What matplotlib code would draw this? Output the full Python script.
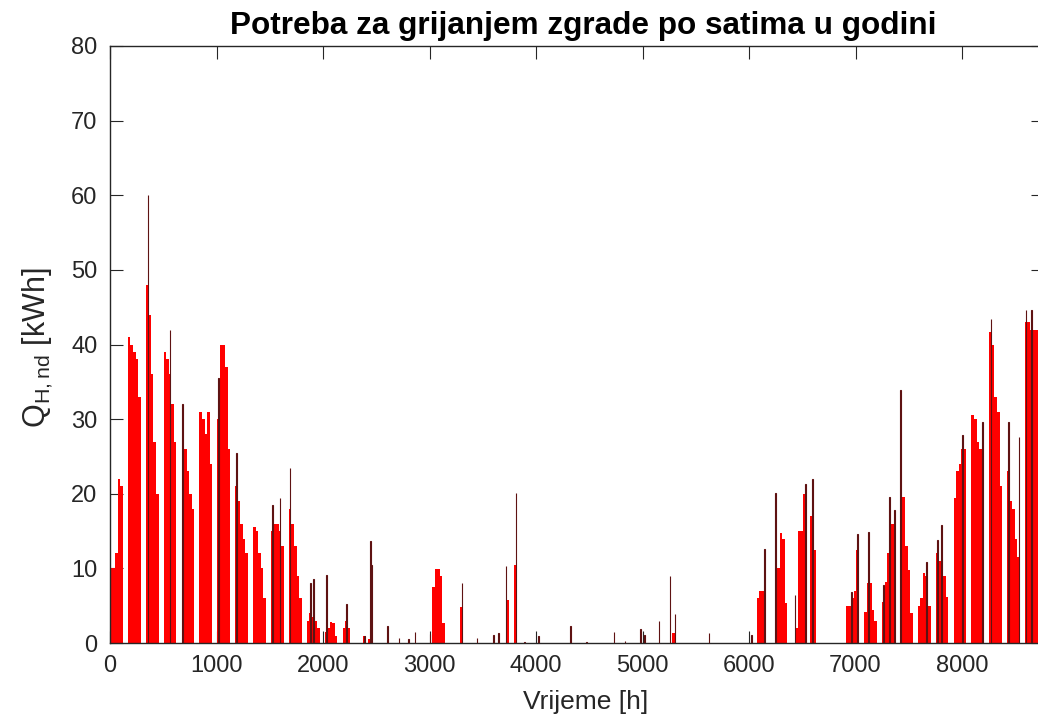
import matplotlib
matplotlib.use("Agg")
import matplotlib.pyplot as plt
import numpy as np

# daily heating demand body (kWh), one row per week (7 days), 365 days total
daily = [
    [10, 10, 12, 22, 21, 0, 0],
    [41, 40, 39, 38, 33, 0, 0],
    [48, 44, 36, 27, 20, 0, 0],
    [39, 38, 36, 32, 27, 0, 0],
    [29, 26, 23, 20, 18, 0, 0],
    [31, 30, 28, 31, 24, 0, 0],
    [30, 40, 40, 37, 26, 0, 0],
    [21, 19, 16, 14, 12, 0, 0],
    [15.5, 15, 12, 10, 6, 0, 0],
    [15, 16, 16, 15, 13, 0, 0],
    [18, 16, 13, 9, 6, 0, 0],
    [3, 4, 3.5, 3, 2, 0, 0],
    [1.5, 2, 2.8, 2.7, 1, 0, 0],
    [2, 3, 2, 0, 0, 0, 0],
    [0, 1, 0, 0.5, 0, 0, 0],
    [0, 0, 0, 0, 0, 0, 0],
    [0, 0, 0, 0, 0, 0, 0],
    [0, 0, 0, 0, 0, 0, 0],
    [7.5, 9.9, 9.9, 9, 2.7, 0, 0],
    [0, 0, 0, 0, 4.8, 0, 0],
    [0, 0, 0, 0, 0, 0, 0],
    [0, 0, 0, 0, 0, 0, 0],
    [0, 5.8, 0, 0, 10.4, 0, 0],
    [0, 0, 0, 0, 0, 0, 0],
    [0, 0, 0, 0, 0, 0, 0],
    [0, 0, 0, 0, 0, 0, 0],
    [0, 0, 0, 0, 0, 0, 0],
    [0, 0, 0, 0, 0, 0, 0],
    [0, 0, 0, 0, 0, 0, 0],
    [0, 0, 0, 0, 0, 0, 0],
    [0, 0, 0, 0, 0, 0, 0],
    [0, 0, 0, 1.3, 0, 0, 0],
    [0, 0, 0, 0, 0, 0, 0],
    [0, 0, 0, 0, 0, 0, 0],
    [0, 0, 0, 0, 0, 0, 0],
    [0, 0, 0, 0, 0, 0, 0],
    [0, 6, 7, 7, 0, 0, 0],
    [0, 13, 10, 14.8, 14, 5.3, 0],
    [0, 0, 2, 15, 15, 20, 0],
    [0, 17, 12.5, 0, 0, 0, 0],
    [0, 0, 0, 0, 0, 0, 0],
    [0, 5, 5, 6, 7, 12.5, 0],
    [0, 4.2, 8, 8, 4.4, 3, 0],
    [0, 5.5, 8.2, 12, 16, 16, 0],
    [0, 25, 19.5, 13, 9.8, 4, 0],
    [0, 5, 6, 9.4, 9, 5, 0],
    [0, 12, 11, 11, 9, 6.2, 0],
    [0, 19.4, 23, 24, 26, 26, 0],
    [0, 30.5, 30, 27, 26, 22, 0],
    [0, 41.7, 40, 33, 31, 21, 0],
    [0, 23, 19, 18, 14, 11.5, 0],
    [0, 43, 43, 42, 42, 42, 0],
    [0],
]

# single-hour peaks (hour of year, kWh)
spike_hours = [357, 563, 682, 1020, 1189, 1528, 1596, 1690, 1880, 1907,
               2035, 2222, 2387, 2447, 2452, 2607, 2714, 2800, 2864, 3005,
               3305, 3446, 3600, 3650, 3718, 3812, 3892, 4020, 4326, 4470,
               4732, 4836, 4977, 5015, 5155, 5258, 5305, 5624, 6025, 6148,
               6251, 6432, 6528, 6592, 6958, 7020, 7121, 7262, 7318, 7362,
               7424, 7668, 7768, 7809, 8006, 8191, 8272, 8435, 8535, 8601,
               8654]
spike_vals = [60, 42, 32, 35.5, 25.5, 18.5, 19.4, 23.5, 8.0, 8.6,
              9.1, 5.2, 1.0, 13.7, 10.5, 2.3, 0.7, 0.5, 1.5, 1.2,
              8.0, 0.7, 1.1, 1.3, 10.3, 20.1, 0.2, 1.0, 2.3, 0.2,
              1.5, 0.3, 1.9, 1.1, 3.0, 9.0, 3.9, 1.3, 1.1, 12.6,
              20.1, 6.4, 21.3, 22.0, 6.8, 14.6, 14.9, 7.8, 19.6, 17.8,
              33.9, 10.9, 13.8, 15.8, 27.9, 29.6, 43.4, 29.6, 27.6, 44.6,
              44.6]

TITLE = "Potreba za grijanjem zgrade po satima u godini"
XLABEL = "Vrijeme [h]"
YLABEL = r"$\mathregular{Q_{H,nd}}$ [kWh]"

TXT = "#262626"
plt.rcParams["font.family"] = ["Liberation Sans", "DejaVu Sans"]
plt.rcParams["mathtext.fontset"] = "custom"
plt.rcParams["mathtext.rm"] = "Liberation Sans"

W, H = 1038, 717
fig = plt.figure(figsize=(W / 100, H / 100), dpi=100)
ax = fig.add_axes([110 / W, (H - 643) / H, (1043 - 110) / W, (643 - 46) / H])

day_vals = np.concatenate([np.array(w, dtype=float) for w in daily])
day_start = np.arange(len(day_vals)) * 24
ax.bar(day_start, day_vals, width=24, align="edge", color="#ff0000",
       edgecolor="none", linewidth=0, zorder=2)
ax.bar(spike_hours, spike_vals, width=8, color="#ff0000",
       edgecolor="#5e1212", linewidth=0.8, zorder=3)

ax.set_xlim(0, 8760)
ax.set_ylim(0, 80)
ax.set_xticks(np.arange(0, 9000, 1000))
ax.set_yticks(np.arange(0, 90, 10))
ax.tick_params(direction="in", length=9, width=0.8, colors=TXT,
               labelsize=17, top=True, right=True, pad=9)
for s in ax.spines.values():
    s.set_color(TXT)
    s.set_linewidth(1.0)

ax.text(0.507, 1.02, TITLE, transform=ax.transAxes, ha="center",
        va="baseline", fontsize=22.7, fontweight="bold", color="black")
fig.text(586 / W, 8 / H, XLABEL, ha="center", va="baseline", fontsize=19,
         color=TXT)
fig.text(38 / W, 1 - 348 / H, YLABEL, ha="center", va="center",
         rotation=90, fontsize=22, color=TXT)

fig.savefig("out.png", dpi=100, facecolor="white")
